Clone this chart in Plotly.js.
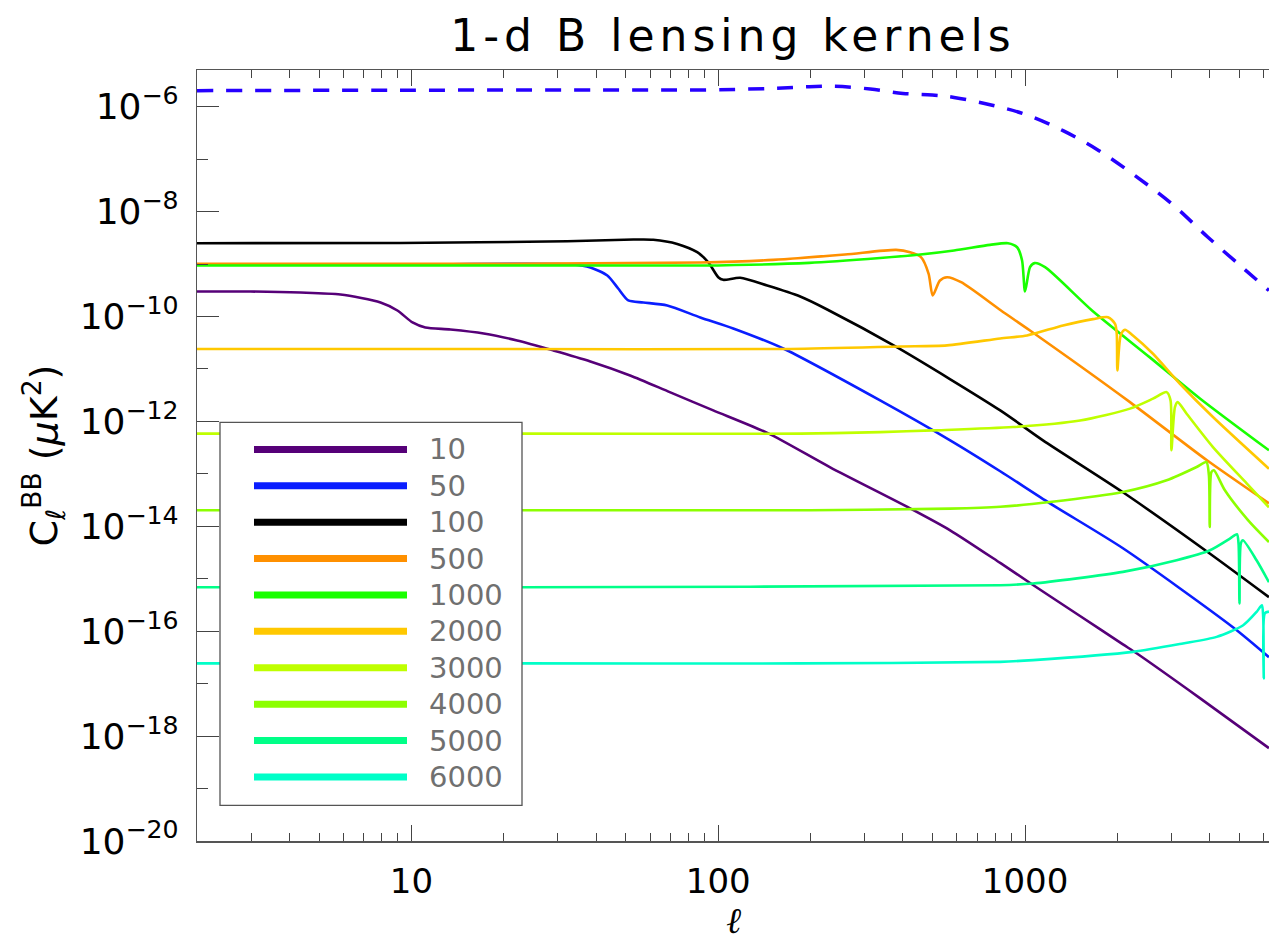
<!DOCTYPE html>
<html><head><meta charset="utf-8">
<script src="https://cdn.plot.ly/plotly-3.0.1.min.js"></script>
<style>
html,body{margin:0;padding:0;background:#fff;overflow:hidden}
#chart{width:1269px;height:946px}
.gtitle{letter-spacing:5px}
</style></head><body><div id="chart"></div>
<script>
// ---------- data ----------
const seriesNames  = ['10','50','100','500','1000','2000','3000','4000','5000','6000'];
const seriesColors = ['#560078','#0a1eff','#000000','#ff9000','#19ff00','#ffc800','#bfff00','#8cff00','#00ff88','#00ffc8'];

const ellTotal = [2.0, 9.2, 41.3, 87.4, 151, 198, 239, 313, 400, 498, 587, 769, 1015, 1330, 1742, 2282, 3012, 3947, 5169, 6237];
const clTotal  = [2.02e-6, 2.06e-6, 2.08e-6, 2.08e-6, 2.23e-6, 2.40e-6, 2.44e-6, 2.17e-6, 1.79e-6, 1.67e-6, 1.50e-6, 1.09e-6, 6.95e-7, 3.49e-7, 1.45e-7, 4.85e-8, 1.40e-8, 3.24e-9, 8.11e-10, 3.13e-10];

const ellL10 = [2.0, 2.99, 4.35, 5.87, 7.93, 9.0, 10.08, 11.1, 13.4, 17.2, 22.1, 29.0, 38.3, 51.6, 69.8, 96.3, 145.6, 231.7, 422, 570, 830, 1062, 1511, 2085, 2316, 3715, 6237];
const clL10  = [2.99e-10, 2.99e-10, 2.86e-10, 2.62e-10, 1.85e-10, 1.30e-10, 7.69e-11, 6.17e-11, 5.65e-11, 4.74e-11, 3.49e-11, 2.25e-11, 1.39e-11, 7.52e-12, 3.57e-12, 1.62e-12, 5.9e-13, 1.33e-13, 2.2e-14, 8.4e-15, 2.0e-15, 7.6e-16, 1.95e-16, 5.6e-17, 3.75e-17, 5.3e-18, 5.9e-19];

const ellL50 = [2.0, 9.21, 33.7, 38.3, 43.5, 47.2, 50.9, 57.0, 68.2, 87.4, 111.9, 162.8, 337, 570, 830, 1205, 2085, 4760, 6237];
const clL50  = [9.77e-10, 9.77e-10, 9.77e-10, 8.57e-10, 6.04e-10, 3.41e-10, 2.02e-10, 1.85e-10, 1.62e-10, 9.58e-11, 5.9e-11, 2.45e-11, 2.51e-12, 4.35e-13, 1.12e-13, 2.74e-14, 3.81e-15, 1.19e-16, 3.2e-17];

const ellL100 = [2.0, 9.21, 32.2, 52.9, 61.4, 73.5, 85.4, 92.8, 100, 103.8, 117.9, 144.4, 185, 226.5, 383, 830, 1144, 2085, 3947, 6237];
const clL100  = [2.49e-9, 2.52e-9, 2.72e-9, 2.93e-9, 2.91e-9, 2.42e-9, 1.68e-9, 1.08e-9, 5.61e-10, 5.0e-10, 5.46e-10, 3.89e-10, 2.40e-10, 1.36e-10, 2.57e-11, 1.62e-12, 4.35e-13, 4.45e-14, 3.2e-15, 4.45e-16];

const ellL500 = [2.0, 19.5, 87.4, 151, 259, 380, 422, 458, 485, 500, 528, 557, 619, 835, 1038, 2198, 3917, 6237];
const clL500  = [1.01e-9, 1.01e-9, 1.07e-9, 1.20e-9, 1.52e-9, 1.86e-9, 1.68e-9, 1.35e-9, 6.5e-10, 2.51e-10, 4.85e-10, 5.61e-10, 4.5e-10, 1.30e-10, 5.41e-11, 2.33e-12, 1.81e-13, 2.74e-14];

const ellL1000 = [2.0, 87.4, 198, 337, 448, 587, 769, 880, 942, 978, 1000, 1038, 1074, 1162, 1653, 2552, 3715, 6237];
const clL1000  = [9.35e-10, 9.35e-10, 1.05e-9, 1.30e-9, 1.50e-9, 1.81e-9, 2.32e-9, 2.49e-9, 2.09e-9, 1.17e-9, 2.99e-10, 8.69e-10, 1.04e-9, 8.69e-10, 1.30e-10, 1.66e-11, 2.74e-12, 2.81e-13];

const ellL2000 = [2.0, 19.5, 171.6, 392, 557, 830, 1015, 1330, 1665, 1864, 1965, 1990, 2000, 2050, 2117, 2247, 2612, 3198, 4097, 6237];
const clL2000  = [2.40e-11, 2.40e-11, 2.40e-11, 2.68e-11, 2.81e-11, 3.81e-11, 4.35e-11, 6.74e-11, 8.9e-11, 9.7e-11, 7.26e-11, 4.74e-11, 9.35e-12, 4.35e-11, 5.58e-11, 4.35e-11, 1.95e-11, 5.22e-12, 1.21e-12, 1.25e-13];

const ellL3000 = [2.0, 23.2, 185, 337, 502, 914, 1511, 2198, 2612, 2894, 2980, 3000, 3080, 3144, 3363, 4097, 5276, 6237];
const clL3000  = [5.83e-13, 5.83e-13, 5.83e-13, 6.25e-13, 6.74e-13, 7.79e-13, 1.04e-12, 1.75e-12, 2.71e-12, 3.61e-12, 2.51e-12, 2.81e-13, 1.87e-12, 2.33e-12, 1.40e-12, 3.24e-13, 6.59e-14, 2.30e-14];

const ellL4000 = [2.0, 199, 570, 830, 1205, 2085, 2894, 3625, 3900, 3975, 4000, 4050, 4127, 4481, 5338, 6237];
const clL4000  = [2.02e-14, 2.02e-14, 2.17e-14, 2.35e-14, 2.90e-14, 4.50e-14, 7.52e-14, 1.35e-13, 1.68e-13, 9.35e-14, 9.7e-15, 1.08e-13, 1.17e-13, 4.85e-14, 1.30e-14, 5.02e-15];

const ellL5000 = [2.0, 23.2, 830, 1062, 2085, 3120, 4005, 4654, 4905, 4965, 5000, 5050, 5130, 5684, 6237];
const clL5000  = [6.89e-16, 6.89e-16, 7.52e-16, 8.11e-16, 1.35e-15, 2.25e-15, 3.49e-15, 5.83e-15, 7.05e-15, 4.68e-15, 3.37e-16, 4.68e-15, 5.41e-15, 2.25e-15, 8.57e-16];

const ellL6000 = [2.0, 23.2, 185, 830, 1062, 2247, 3271, 4212, 5142, 5684, 5916, 5975, 6000, 6050, 6237];
const clL6000  = [2.43e-17, 2.43e-17, 2.43e-17, 2.60e-17, 2.81e-17, 4.03e-17, 5.83e-17, 7.79e-17, 1.30e-16, 2.33e-16, 3.13e-16, 1.85e-16, 1.26e-17, 2.20e-16, 2.36e-16];

const xMajorTicks = [10, 100, 1000];
const xMajorText  = ['10', '100', '1000'];
const yMajorTicks = [1e-20, 1e-18, 1e-16, 1e-14, 1e-12, 1e-10, 1e-8, 1e-6];
const yMajorText  = ['10<sup>\u221220</sup>','10<sup>\u221218</sup>','10<sup>\u221216</sup>','10<sup>\u221214</sup>','10<sup>\u221212</sup>','10<sup>\u221210</sup>','10<sup>\u22128</sup>','10<sup>\u22126</sup>'];
const yMinorTicks = [1e-19, 1e-17, 1e-15, 1e-13, 1e-11, 1e-9, 1e-7];
const xMinorTicks = [2,3,4,5,6,7,8,9,20,30,40,50,60,70,80,90,200,300,400,500,600,700,800,900,2000,3000,4000,5000,6000];

// ---------- build ----------
const FONT = 'DejaVu Sans, Liberation Sans, sans-serif';
const kernelX = [ellL10, ellL50, ellL100, ellL500, ellL1000, ellL2000, ellL3000, ellL4000, ellL5000, ellL6000];
const kernelY = [clL10, clL50, clL100, clL500, clL1000, clL2000, clL3000, clL4000, clL5000, clL6000];

const traces = [{
  x: ellTotal, y: clTotal, type: 'scatter', mode: 'lines', name: 'total',
  line: {color: '#2600ff', width: 3.5, dash: '16px,13px', shape: 'spline', smoothing: 1}, hoverinfo: 'skip'
}];
kernelX.forEach((xs, i) => {
  traces.push({x: xs, y: kernelY[i], type: 'scatter', mode: 'lines', name: seriesNames[i],
    line: {color: seriesColors[i], width: 2.6, shape: 'spline', smoothing: 0.7}, hoverinfo: 'skip'});
});

const W = 1269, H = 946;
const plotL = 197, plotR = 1269, plotT = 69.5, plotB = 840.7;
const px2x = p => (p - plotL) / (plotR - plotL);
const px2y = p => (plotB - p) / (plotB - plotT);

const shapes = [{type: 'rect', xref: 'paper', yref: 'paper', layer: 'above',
  x0: px2x(220), x1: px2x(522), y0: px2y(805), y1: px2y(422),
  fillcolor: '#ffffff', line: {color: '#555555', width: 1.3}}];
const annotations = [];
seriesNames.forEach((n, i) => {
  const yy = px2y(449 + 36.4 * i);
  shapes.push({type: 'line', xref: 'paper', yref: 'paper', layer: 'above',
    x0: px2x(254), x1: px2x(407), y0: yy, y1: yy,
    line: {color: seriesColors[i], width: 7}});
  annotations.push({xref: 'paper', yref: 'paper', x: px2x(427), y: yy,
    xanchor: 'left', yanchor: 'middle', text: n, showarrow: false,
    font: {family: FONT, size: 29, color: '#707070'}});
});
// x-axis title (ℓ), placed below the tick labels
annotations.push({xref: 'paper', yref: 'paper', x: 0.5, y: px2y(920),
  xanchor: 'center', yanchor: 'middle', text: '\u2113', showarrow: false,
  font: {family: 'DejaVu Serif, serif', size: 36, style: 'italic', color: '#000'}});

const layout = {
  width: W, height: H,
  margin: {l: plotL, r: W - plotR, t: plotT, b: H - plotB, pad: 0},
  paper_bgcolor: '#fff', plot_bgcolor: '#fff',
  showlegend: false,
  font: {family: FONT, color: '#000'},
  title: {text: '1-d B lensing kernels', x: 0.5, xref: 'paper', xanchor: 'center',
    y: 1 - 36 / H, yref: 'container', yanchor: 'middle',
    font: {family: FONT, size: 44, color: '#000'}},
  xaxis: {
    type: 'log', range: [Math.log10(2), Math.log10(6240)],
    tickmode: 'array', tickvals: xMajorTicks, ticktext: xMajorText,
    ticks: 'inside', ticklen: 16, tickwidth: 1, tickcolor: '#444',
    minor: {tickmode: 'array', tickvals: xMinorTicks, ticks: 'inside', ticklen: 8, tickwidth: 1, tickcolor: '#444', showgrid: false},
    showline: true, linecolor: '#555', linewidth: 1.5, mirror: 'allticks',
    showgrid: false, zeroline: false,
    tickfont: {family: FONT, size: 34, color: '#000'}, ticklabelstandoff: 10
  },
  yaxis: {
    type: 'log', range: [-20, Math.log10(5e-6)],
    tickmode: 'array', tickvals: yMajorTicks, ticktext: yMajorText,
    ticks: 'inside', ticklen: 22, tickwidth: 1, tickcolor: '#444',
    minor: {tickmode: 'array', tickvals: yMinorTicks, ticks: 'inside', ticklen: 11, tickwidth: 1, tickcolor: '#444', showgrid: false},
    showline: true, linecolor: '#555', linewidth: 1.2, mirror: false,
    showgrid: false, zeroline: false,
    tickfont: {family: FONT, size: 36, color: '#000'}, ticklabelstandoff: 10,
    title: {text: 'C<sub>\u2113</sub><sup>BB</sup> (<i>\u03bc</i>K<sup>2</sup>)', font: {family: FONT, size: 38, color: '#000'}, standoff: 10}
  },
  shapes: shapes,
  annotations: annotations
};

Plotly.newPlot('chart', traces, layout, {staticPlot: true, displayModeBar: false});
</script>
</body></html>
